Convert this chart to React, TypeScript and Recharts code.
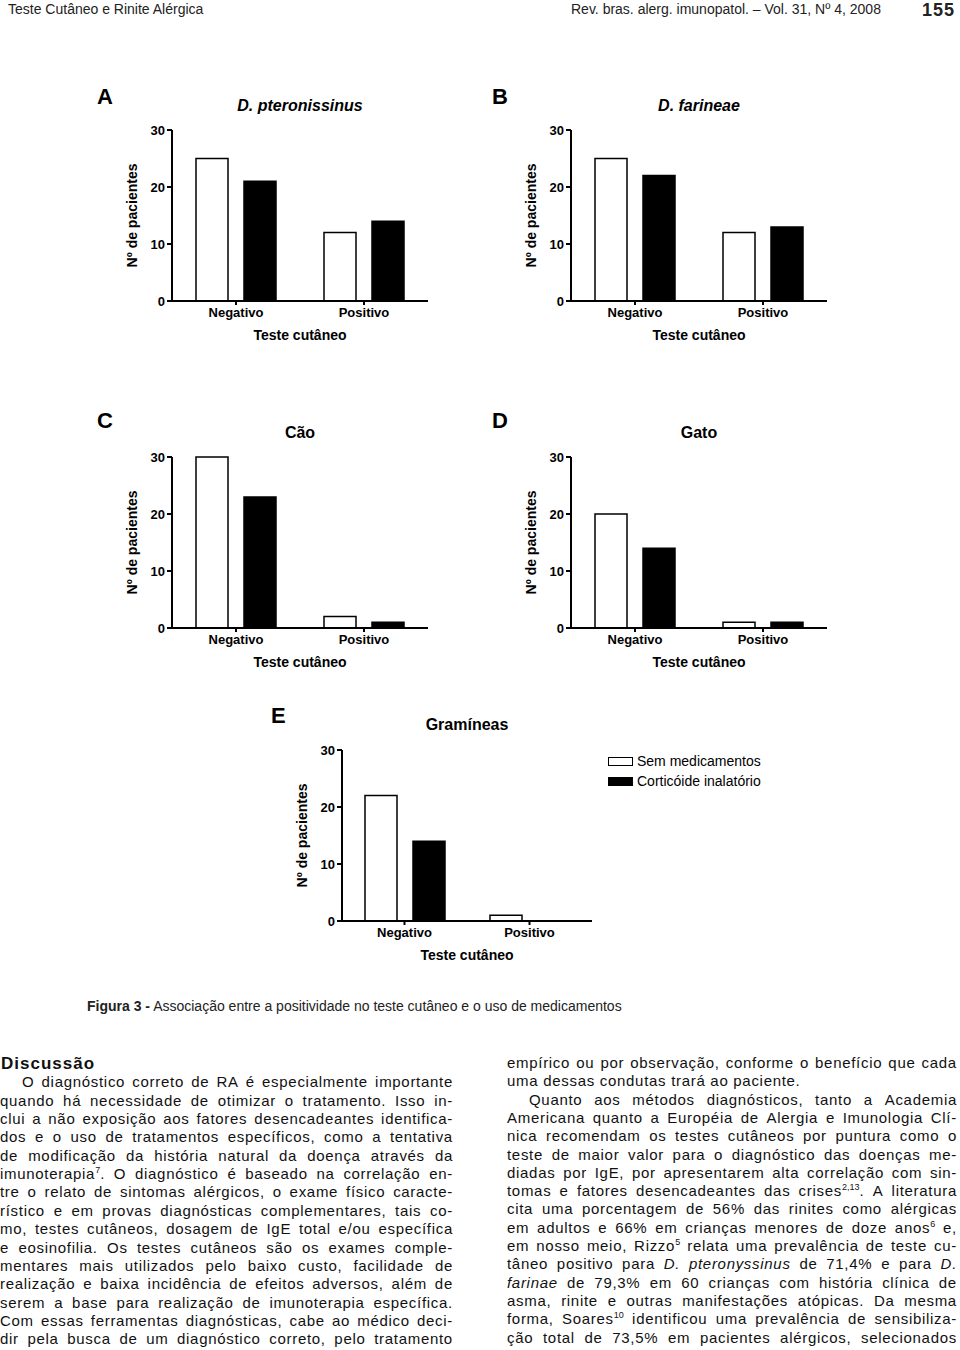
import React from "react";
import { BarChart, Bar, XAxis, YAxis, Label, Legend } from "recharts";

const FONT = '"Liberation Sans", Arial, Helvetica, sans-serif';

// chart data (Nº de pacientes)
const categories = ["Negativo", "Positivo"];
const yTicks = [0, 10, 20, 30];
const seriesNames = ["Sem medicamentos", "Corticóide inalatório"];

const semA = [25, 12];
const cortA = [21, 14];
const semB = [25, 12];
const cortB = [22, 13];
const semC = [30, 2];
const cortC = [23, 1];
const semD = [20, 1];
const cortD = [14, 1];
const semE = [22, 1];
const cortE = [14, 0];

const leftLines = [
  "O diagnóstico correto de RA é especialmente importante",
  "quando há necessidade de otimizar o tratamento. Isso in-",
  "clui a não exposição aos fatores desencadeantes identifica-",
  "dos e o uso de tratamentos específicos, como a tentativa",
  "de modificação da história natural da doença através da",
  "imunoterapia^7. O diagnóstico é baseado na correlação en-",
  "tre o relato de sintomas alérgicos, o exame físico caracte-",
  "rístico e em provas diagnósticas complementares, tais co-",
  "mo, testes cutâneos, dosagem de IgE total e/ou específica",
  "e eosinofilia. Os testes cutâneos são os exames comple-",
  "mentares mais utilizados pelo baixo custo, facilidade de",
  "realização e baixa incidência de efeitos adversos, além de",
  "serem a base para realização de imunoterapia específica.",
  "Com essas ferramentas diagnósticas, cabe ao médico deci-",
  "dir pela busca de um diagnóstico correto, pelo tratamento",
];

const rightLines = [
  "empírico ou por observação, conforme o benefício que cada",
  "uma dessas condutas trará ao paciente.",
  "Quanto aos métodos diagnósticos, tanto a Academia",
  "Americana quanto a Européia de Alergia e Imunologia Clí-",
  "nica recomendam os testes cutâneos por puntura como o",
  "teste de maior valor para o diagnóstico das doenças me-",
  "diadas por IgE, por apresentarem alta correlação com sin-",
  "tomas e fatores desencadeantes das crises^2,13. A literatura",
  "cita uma porcentagem de 56% das rinites como alérgicas",
  "em adultos e 66% em crianças menores de doze anos^6 e,",
  "em nosso meio, Rizzo^5 relata uma prevalência de teste cu-",
  "tâneo positivo para _D. pteronyssinus_ de 71,4% e para _D._",
  "_farinae_ de 79,3% em 60 crianças com história clínica de",
  "asma, rinite e outras manifestações atópicas. Da mesma",
  "forma, Soares^10 identificou uma prevalência de sensibiliza-",
  "ção total de 73,5% em pacientes alérgicos, selecionados",
];

function rows(sem: number[], cort: number[]) {
  return categories.map((c, i) => ({ cat: c, sem: sem[i], cort: cort[i] }));
}

function parseWord(tok: string, state: { it: boolean }) {
  const segs: React.ReactNode[] = [];
  let buf = "";
  let k = 0;
  const flush = () => {
    if (buf) {
      segs.push(
        <span key={k++} style={{ fontStyle: state.it ? "italic" : "normal" }}>
          {buf}
        </span>
      );
      buf = "";
    }
  };
  for (let j = 0; j < tok.length; j++) {
    const ch = tok[j];
    if (ch === "_") {
      flush();
      state.it = !state.it;
    } else if (ch === "^") {
      flush();
      let s = "";
      while (j + 1 < tok.length && /[0-9,]/.test(tok[j + 1])) s += tok[++j];
      segs.push(
        <sup key={k++} style={{ fontSize: 9, lineHeight: 0, letterSpacing: 0 }}>
          {s}
        </sup>
      );
    } else buf += ch;
  }
  flush();
  return segs;
}

function TextLine({ x, w, cy, text, indent = 0, justify = true }: any) {
  const state = { it: false };
  const words = text.split(" ").map((t: string, i: number) => <span key={i}>{parseWord(t, state)}</span>);
  return (
    <div
      style={{
        position: "absolute",
        left: x + indent,
        width: w - indent,
        top: cy - 10,
        height: 18,
        lineHeight: "18px",
        fontSize: 15,
        letterSpacing: 0.7,
        whiteSpace: "nowrap",
        display: justify ? "flex" : "block",
        justifyContent: "space-between",
        color: "#111",
      }}
    >
      {justify ? words : words.map((wd: React.ReactNode, i: number) => [i ? " " : null, wd])}
    </div>
  );
}

const axisStroke = { stroke: "#000", strokeWidth: 2 };
const tickStyle = { fill: "#000", fontSize: 13, fontWeight: 700, fontFamily: FONT };
const labelStyle = { fill: "#000", fontSize: 14, fontWeight: 700, fontFamily: FONT };

function LegendBox(props: any) {
  const items = [...(props.payload || [])].sort(
    (a: any, b: any) => seriesNames.indexOf(a.value) - seriesNames.indexOf(b.value)
  );
  return (
    <div style={{ fontFamily: FONT, fontSize: 14, color: "#000" }}>
      {items.map((it: any, i: number) => (
        <div key={i} style={{ height: 20, display: "flex", alignItems: "center" }}>
          <span
            style={{
              display: "inline-block",
              width: 25,
              height: 9,
              boxSizing: "border-box",
              border: "1.5px solid #000",
              background: it.color,
              marginRight: 4,
            }}
          />
          <span>{it.value}</span>
        </div>
      ))}
    </div>
  );
}

function Panel(p: any) {
  const ml = 90;
  const mt = 10;
  const mb = 50;
  const mr = p.legend ? 230 : 12;
  const W = p.plotW + ml + mr;
  const H = p.plotH + mt + mb;
  const left = p.plotLeft - ml;
  const top = p.plotTop - mt;
  return (
    <>
      <div
        style={{
          position: "absolute",
          left: p.letterX,
          top: p.letterY,
          fontSize: 22,
          lineHeight: "22px",
          fontWeight: 700,
        }}
      >
        {p.letter}
      </div>
      <div
        style={{
          position: "absolute",
          left: p.plotLeft - 60,
          width: p.plotW + 120,
          top: p.titleY,
          fontSize: 16,
          lineHeight: "16px",
          fontWeight: 700,
          fontStyle: p.italic ? "italic" : "normal",
          textAlign: "center",
        }}
      >
        {p.title}
      </div>
      <div style={{ position: "absolute", left, top }}>
        <BarChart
          width={W}
          height={H}
          data={rows(p.sem, p.cort)}
          margin={{ top: mt, right: mr, bottom: mb - 42, left: ml - 60 }}
          barSize={32}
          barGap={16}
        >
          <XAxis
            dataKey="cat"
            height={42}
            interval={0}
            axisLine={axisStroke}
            tickLine={axisStroke}
            tickSize={4}
            tickMargin={3}
            tick={tickStyle}
          >
            <Label value="Teste cutâneo" position="insideBottom" offset={3} style={labelStyle} />
          </XAxis>
          <YAxis
            width={60}
            domain={[0, 30]}
            ticks={yTicks}
            interval={0}
            axisLine={axisStroke}
            tickLine={axisStroke}
            tickSize={5}
            tickMargin={2}
            tick={tickStyle}
          >
            <Label
              value="Nº de pacientes"
              angle={-90}
              position="insideLeft"
              offset={20}
              style={{ ...labelStyle, textAnchor: "middle" }}
            />
          </YAxis>
          <Bar dataKey="sem" name={seriesNames[0]} fill="#fff" stroke="#000" strokeWidth={1.5} isAnimationActive={false} />
          <Bar dataKey="cort" name={seriesNames[1]} fill="#000" stroke="#000" strokeWidth={1.5} isAnimationActive={false} />
          {p.legend && (
            <Legend
              layout="vertical"
              align="center"
              verticalAlign="middle"
              wrapperStyle={{ left: 608 - left, top: 751 - top, width: 200 }}
              content={<LegendBox />}
            />
          )}
        </BarChart>
      </div>
    </>
  );
}

export default function App() {
  return (
    <div
      style={{
        position: "absolute",
        left: 0,
        top: 0,
        width: 960,
        height: 1350,
        background: "#fff",
        overflow: "hidden",
        fontFamily: FONT,
        color: "#000",
      }}
    >
      <div style={{ position: "absolute", left: 8, top: 0, fontSize: 14, lineHeight: "18px", color: "#222" }}>
        Teste Cutâneo e Rinite Alérgica
      </div>
      <div style={{ position: "absolute", left: 571, top: 0, fontSize: 14, lineHeight: "18px", color: "#222" }}>
        Rev. bras. alerg. imunopatol. – Vol. 31, Nº 4, 2008
      </div>
      <div
        style={{
          position: "absolute",
          left: 922,
          top: 1,
          fontSize: 18,
          lineHeight: "18px",
          fontWeight: 700,
          letterSpacing: 1,
          color: "#222",
        }}
      >
        155
      </div>

      <Panel letter="A" title="D. pteronissinus" italic sem={semA} cort={cortA}
        plotLeft={172} plotTop={130} plotW={256} plotH={171} letterX={97} letterY={85.5} titleY={97.5} />
      <Panel letter="B" title="D. farineae" italic sem={semB} cort={cortB}
        plotLeft={571} plotTop={130} plotW={256} plotH={171} letterX={492} letterY={86} titleY={97.5} />
      <Panel letter="C" title="Cão" sem={semC} cort={cortC}
        plotLeft={172} plotTop={457} plotW={256} plotH={171} letterX={97} letterY={409.5} titleY={425} />
      <Panel letter="D" title="Gato" sem={semD} cort={cortD}
        plotLeft={571} plotTop={457} plotW={256} plotH={171} letterX={492} letterY={409.5} titleY={425} />
      <Panel letter="E" title="Gramíneas" sem={semE} cort={cortE} legend
        plotLeft={342} plotTop={750} plotW={250} plotH={171} letterX={271} letterY={704.5} titleY={717} />

      <div style={{ position: "absolute", left: 87, top: 997, fontSize: 14, lineHeight: "18px", color: "#222" }}>
        <b>Figura 3 -</b> Associação entre a positividade no teste cutâneo e o uso de medicamentos
      </div>

      <div
        style={{
          position: "absolute",
          left: 1,
          top: 1054,
          fontSize: 17,
          lineHeight: "20px",
          fontWeight: 700,
          letterSpacing: 1,
          color: "#111",
        }}
      >
        Discussão
      </div>
      {leftLines.map((t, i) => (
        <TextLine key={"l" + i} x={0} w={453} cy={1065 + 18.35 * (i + 1)} text={t} indent={i === 0 ? 22 : 0} />
      ))}
      {rightLines.map((t, i) => (
        <TextLine key={"r" + i} x={507} w={450} cy={1064 + 18.3 * i} text={t} indent={i === 2 ? 22 : 0} justify={i !== 1} />
      ))}
    </div>
  );
}
